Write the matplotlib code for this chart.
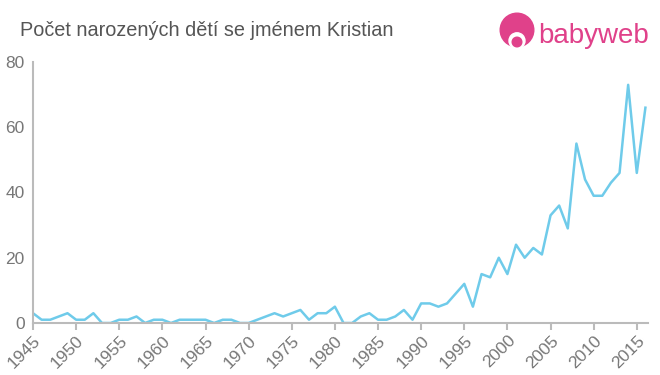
import matplotlib
matplotlib.use("Agg")
import matplotlib.pyplot as plt
from matplotlib.patches import Circle

plt.rcParams["font.family"] = ["Liberation Sans", "DejaVu Sans"]

years = list(range(1945, 2017))
counts = [3, 1, 1, 2, 3, 1, 1, 3, 0, 0,
          1, 1, 2, 0, 1, 1, 0, 1, 1, 1,
          1, 0, 1, 1, 0, 0, 1, 2, 3, 2,
          3, 4, 1, 3, 3, 5, 0, 0, 2, 3,
          1, 1, 2, 4, 1, 6, 6, 5, 6, 9,
          12, 5, 15, 14, 20, 15, 24, 20, 23, 21,
          33, 36, 29, 55, 44, 39, 39, 43, 46, 73,
          46, 66]
xticks = list(range(1945, 2016, 5))
yticks = [0, 20, 40, 60, 80]

title = "Počet narozených dětí se jménem Kristian"
grey = "#777777"
axis_grey = "#bbbbbb"

fig = plt.figure(figsize=(6.6, 3.75), dpi=100)
ax = fig.add_axes([33 / 660, 1 - 323 / 375, 615 / 660, 261 / 375])

ax.plot(years, counts, color="#6fcbea", linewidth=1.8)

ax.set_xlim(1945, 2016.3)
ax.set_ylim(0, 80)
ax.set_xticks(xticks)
ax.set_xticklabels([str(y) for y in xticks], rotation=45, ha="right",
                   rotation_mode="anchor", fontsize=12.5, color=grey)
ax.set_yticks(yticks)
ax.set_yticklabels([str(v) for v in yticks], fontsize=12.5, color=grey)
ax.tick_params(axis="x", length=5, color=axis_grey, width=1.5, pad=2)
ax.tick_params(axis="y", length=0, pad=6)

for side in ["top", "right"]:
    ax.spines[side].set_visible(False)
for side in ["left", "bottom"]:
    ax.spines[side].set_color(axis_grey)
    ax.spines[side].set_linewidth(1.5)

fig.text(20 / 660, 1 - 30 / 375, title, fontsize=14.3, color="#555555",
         va="center", ha="left")

# babyweb logo
pink = "#e0418a"
logo = fig.add_axes([497 / 660, 1 - 52 / 375, 40 / 660, 40 / 375])
logo.set_xlim(0, 1)
logo.set_ylim(0, 1)
logo.set_aspect("equal")
logo.axis("off")
logo.add_patch(Circle((0.5, 0.55), 0.42, color=pink))
logo.add_patch(Circle((0.5, 0.28), 0.2, color="white"))
logo.add_patch(Circle((0.5, 0.25), 0.12, color=pink))
fig.text(538 / 660, 1 - 36 / 375, "babyweb", fontsize=20, color=pink,
         va="center", ha="left")

fig.savefig("out.png", dpi=100)
